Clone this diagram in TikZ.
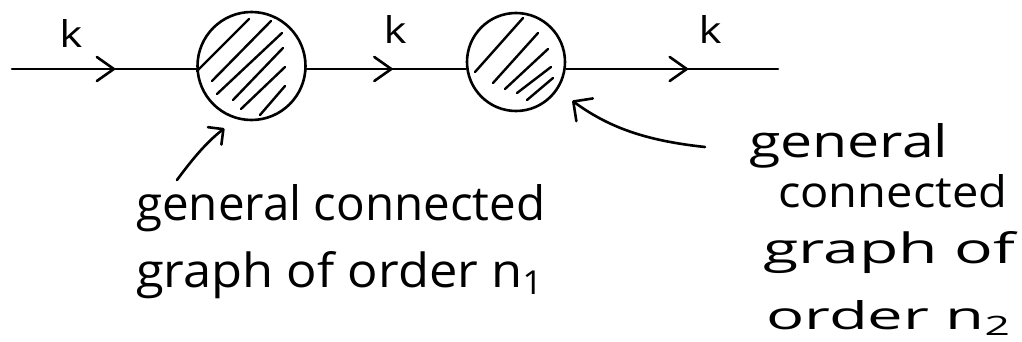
\documentclass[tikz,border=0pt]{standalone}
\usepackage{fontspec}
\setmainfont{Open Sans}
\usetikzlibrary{arrows.meta,decorations.markings}
% set a line of text into a box of given width and height
\newcommand\handline[3]{\resizebox{#1}{#2}{#3}}
\begin{document}
\begin{tikzpicture}[x=1pt,y=-1pt,
  ink/.style={line width=2.6pt, line cap=round, line join=round},
  blob/.style={circle, draw, ink, inner sep=0pt},
  hatch/.style={line width=2.4pt, line cap=round},
  flowmark/.style={postaction={decorate},
    decoration={markings, mark=at position #1 with
      {\arrow{Straight Barb[length=17pt,width=24pt,line width=2.6pt,round]}}}},
  txt/.style={anchor=base west, inner sep=0pt},
  lbl/.style={inner sep=0pt},
  ]
\useasboundingbox (0,0) rectangle (1022,342);

% the two blobs
\node[blob, minimum size=108pt] (c1) at (251.5,66) {};
\node[blob, minimum size=98pt] (c2) at (516,62) {};

% hatching of the first blob
\draw[hatch] (197,71) -- (249,19);
\draw[hatch] (212,81) -- (271,21);
\draw[hatch] (217,94) -- (282,33);
\draw[hatch] (233,100) -- (283,48);
\draw[hatch] (241,109) -- (285,67);
\draw[hatch] (260,115) -- (285,86);

% hatching of the second blob
\draw[hatch] (475,72) -- (523,18);
\draw[hatch] (493,83) -- (538,33);
\draw[hatch] (505,89) -- (548,49);
\draw[hatch] (517,93) -- (551,67);
\draw[hatch] (527,100) -- (553,78);

% external line with momentum flow
\coordinate (lead) at (12,69);
\coordinate (tail) at (778,69);
\draw[ink, flowmark=0.56] (lead) -- (lead -| c1.west);
\draw[ink, flowmark=0.54] (c1.east |- lead) -- (c2.west |- lead);
\draw[ink, flowmark=0.575] (c2.east |- lead) -- (tail);

\node[lbl] (k1) at (71,34) {\handline{23pt}{28pt}{k}};
\node[lbl] (k2) at (395,30) {\handline{23pt}{28pt}{k}};
\node[lbl] (k3) at (710,30) {\handline{23pt}{28pt}{k}};

% captions
\node[txt] (l1) at (136,220) {\handline{409pt}{36pt}{general connected}};
\node[txt] (l2) at (136,287) {\handline{409pt}{36pt}{graph of order n\textsubscript{1}}};

\node[txt] (r1) at (749,157) {\handline{199pt}{34pt}{general}};
\node[txt] (r2) at (778,207) {\handline{229pt}{33pt}{connected}};
\node[txt] (r3) at (763,263) {\handline{252pt}{32pt}{graph of}};
\node[txt] (r4) at (766,329) {\handline{247pt}{29pt}{order n\textsubscript{2}}};

% pointers from captions to blobs
\coordinate (p1) at (177,180);
\coordinate (p2) at (705,147);
\draw[ink, -{Straight Barb[length=11pt,width=22pt,round]}, shorten >=15pt]
  (p1) to[bend left=8] (c1.254);
\draw[ink, -{Straight Barb[length=14pt,width=28pt,round]}, shorten >=18pt]
  (p2) to[bend left=15] (c2.-34);
\end{tikzpicture}
\end{document}
